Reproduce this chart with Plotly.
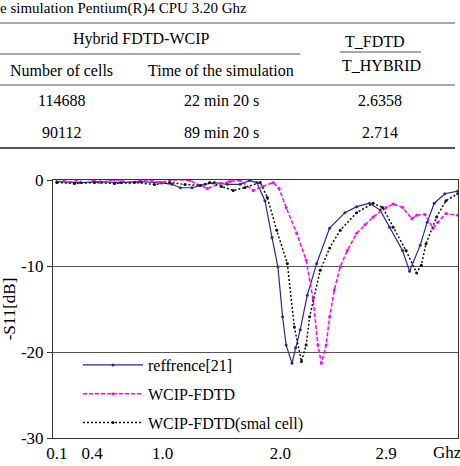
import plotly.graph_objects as go

# ---------------- data ----------------
ref_f = [0.10, 0.30, 0.47, 0.64, 0.81, 0.98, 1.08, 1.15, 1.25, 1.36, 1.44, 1.55, 1.66, 1.74, 1.80,
         1.87, 1.93, 1.98, 2.02, 2.05, 2.10, 2.13, 2.17, 2.23, 2.31, 2.42, 2.55, 2.65, 2.76, 2.85,
         2.93, 3.04, 3.10, 3.19, 3.25, 3.31, 3.40, 3.51]
ref_db = [-0.2, -0.3, -0.2, -0.3, -0.2, -0.3, -0.5, -0.9, -0.9, -0.5, -0.3, -0.5, -0.5, -0.05, -0.3,
          -2.4, -6.7, -10.1, -15.9, -19.2, -21.3, -19.5, -17.4, -13.4, -9.7, -5.6, -3.8, -3.1, -2.7, -3.5,
          -5.5, -8.2, -10.6, -7.6, -4.9, -2.7, -1.6, -1.3]

wcip_f = [0.10, 0.21, 0.34, 0.47, 0.59, 0.72, 0.85, 0.98, 1.10, 1.23, 1.32, 1.38, 1.49, 1.57, 1.66,
          1.77, 1.85, 1.94, 1.99, 2.05, 2.14, 2.22, 2.28, 2.32, 2.35, 2.39, 2.42, 2.46, 2.51, 2.57,
          2.65, 2.72, 2.79, 2.90, 2.96, 3.04, 3.12, 3.16, 3.23, 3.30, 3.34, 3.41, 3.51]
wcip_db = [0.17, -0.29, 0.17, -0.29, 0.06, -0.29, 0.06, -0.29, 0.06, -0.06, -0.64, -0.98, -0.41, -0.17, -0.06,
           -1.22, -0.75, -0.29, -0.98, -3.19, -6.2, -9.3, -13.9, -19.2, -21.3, -19.2, -15.9, -12.8, -10.1, -8.2,
           -6.2, -5.2, -4.3, -3.2, -2.8, -3.2, -4.5, -4.1, -4.0, -5.6, -4.9, -3.9, -4.1]

small_f = [0.10, 0.25, 0.42, 0.59, 0.76, 0.93, 1.06, 1.19, 1.32, 1.40, 1.50, 1.60, 1.70, 1.83, 1.89,
           1.97, 2.06, 2.12, 2.18, 2.22, 2.25, 2.34, 2.42, 2.51, 2.65, 2.79, 2.87, 2.96, 3.07, 3.16,
           3.20, 3.24, 3.33, 3.41, 3.51]
small_db = [-0.29, -0.41, -0.29, -0.41, -0.29, -0.52, -0.29, -0.52, -0.64, -0.29, -0.75, -1.22, -0.87, -0.29, -2.03,
            -5.85, -9.7, -17.1, -21.1, -19.2, -15.9, -10.5, -7.9, -5.85, -3.8, -2.7, -3.2, -5.5, -8.2, -10.8,
            -9.9, -7.4, -4.3, -2.4, -1.6]

series_names = ["reffrence[21]", "WCIP-FDTD", "WCIP-FDTD(smal cell)"]
x_ticks = [0.1, 0.4, 1.0, 2.0, 2.9]
x_ticktext = ["0.1", "0.4", "1.0", "2.0", "2.9"]
y_ticks = [-30, -20, -10, 0]
y_ticktext = ["-30", "-20", "-10", "0"]

# table content
table_title = "e simulation Pentium(R)4 CPU 3.20 Ghz"
group_header = "Hybrid FDTD-WCIP"
col_headers = ["Number of cells", "Time of the simulation"]
ratio_num = "T_FDTD"
ratio_den = "T_HYBRID"
cells_col = ["114688", "90112"]
time_col = ["22 min 20 s", "89 min 20 s"]
ratio_col = ["2.6358", "2.714"]

# ---------------- layout geometry ----------------
W_FIG, H_FIG = 460, 466
ML, MR, MT, MB = 53, 2, 180, 28
PW = W_FIG - ML - MR
PH = H_FIG - MT - MB


def px(x):
    return (x - ML) / PW


def py(y):
    return 1 - (y - MT) / PH


SERIF = "Liberation Serif"

fig = go.Figure()
fig.add_trace(go.Scatter(x=ref_f, y=ref_db, name=series_names[0], mode="lines+markers",
                         line=dict(color="#2a2a8c", width=1.2),
                         marker=dict(size=3, color="#2a2a8c"), legendgroup="a"))
fig.add_trace(go.Scatter(x=wcip_f, y=wcip_db, name=series_names[1], mode="lines+markers",
                         line=dict(color="#ff00ff", width=1.5, dash="4px,2px"),
                         marker=dict(size=3, color="#ff00ff"), legendgroup="b"))
fig.add_trace(go.Scatter(x=small_f, y=small_db, name=series_names[2], mode="lines+markers",
                         line=dict(color="#111111", width=1.5, dash="2px,2px"),
                         marker=dict(size=3, color="#111111"), legendgroup="c"))

fig.update_layout(
    width=W_FIG, height=H_FIG,
    margin=dict(l=ML, r=MR, t=MT, b=MB),
    paper_bgcolor="white", plot_bgcolor="white",
    font=dict(family=SERIF, size=16, color="black"),
    showlegend=True,
    legend=dict(x=px(78), y=py(348), xanchor="left", yanchor="top",
                bgcolor="rgba(0,0,0,0)", font=dict(family=SERIF, size=16),
                tracegroupgap=5, itemwidth=60),
    xaxis=dict(range=[0.067, 3.512], tickvals=x_ticks, ticktext=x_ticktext,
               showgrid=False, zeroline=False, showline=True, linecolor="#333",
               linewidth=1, mirror=True, ticks="", tickfont=dict(family=SERIF, size=17)),
    yaxis=dict(range=[-30, 0], tickvals=y_ticks, ticktext=y_ticktext, showgrid=True,
               gridcolor="#555", gridwidth=1, zeroline=False, showline=True,
               linecolor="#333", linewidth=1, mirror=True, ticks="outside", ticklen=5,
               tickcolor="#333", tickfont=dict(family=SERIF, size=17),
               title=dict(text="-S11[dB]", font=dict(family=SERIF, size=17), standoff=0)),
)

# x axis unit label
fig.add_annotation(text="Ghz", x=px(447), y=py(452), xref="paper", yref="paper",
                   xanchor="center", yanchor="middle",
                   showarrow=False, font=dict(family=SERIF, size=17))

# ---------------- table drawn above the chart ----------------
def hline(x0, x1, y, w=1, c="#555"):
    fig.add_shape(type="line", xref="paper", yref="paper", x0=px(x0), x1=px(x1),
                  y0=py(y), y1=py(y), line=dict(color=c, width=w))


def txt(s, x, y, anchor="center", size=16):
    fig.add_annotation(text=s, x=px(x), y=py(y), xref="paper", yref="paper",
                       xanchor=anchor, yanchor="middle", showarrow=False,
                       font=dict(family=SERIF, size=size, color="black"))


txt(table_title, -2, 8, "left", size=15)
hline(0, 455, 23)
txt(group_header, 141, 39)
hline(0, 300, 54)
txt(ratio_num, 375, 42)
hline(340, 421, 52)
txt(ratio_den, 381, 65)
txt(col_headers[0], 61, 70)
txt(col_headers[1], 221, 70)
hline(0, 455, 85)
row_y = [101, 132]
for i in range(len(cells_col)):
    txt(cells_col[i], 61, row_y[i])
    txt(time_col[i], 221, row_y[i])
    txt(ratio_col[i], 380, row_y[i])
hline(0, 455, 148, w=2)

fig.write_html("out.html")
